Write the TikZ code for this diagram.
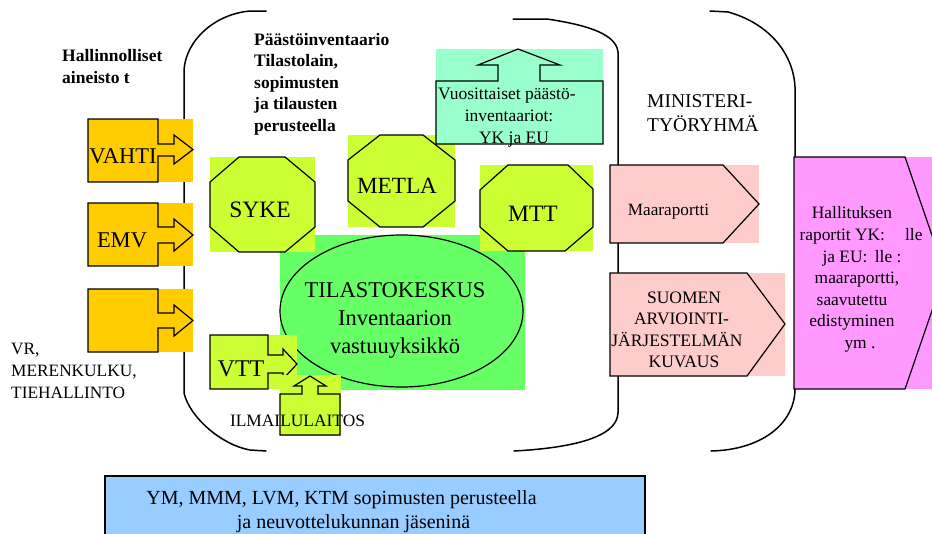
\documentclass[tikz,border=0pt]{standalone}
\usepackage{fontspec}
\setmainfont{Liberation Serif}
\definecolor{orangeF}{HTML}{FFCC00}
\definecolor{limeF}{HTML}{CCFF33}
\definecolor{greenF}{HTML}{66FF66}
\definecolor{tealF}{HTML}{99FFCC}
\definecolor{pinkF}{HTML}{FFCCCC}
\definecolor{magF}{HTML}{FF99FF}
\definecolor{blueF}{HTML}{99CCFF}
\begin{document}
\begin{tikzpicture}[x=1pt,y=-1pt,
  shp/.style={draw=black,line width=1.2pt,line join=miter},
  brk/.style={draw=black,line width=1.5pt,line cap=round,line join=round},
  fs/.style={font=\fontsize{#1}{#1}\selectfont},
  fsb/.style={font=\fontsize{#1}{#1}\selectfont\bfseries},
  tb/.style={inner sep=0pt,anchor=base},
  tw/.style={inner sep=0pt,anchor=base west}]
\useasboundingbox (0,0) rectangle (932,533);
\fill[white] (0,0) rectangle (932,533);

% brackets
\draw[brk] (266,11) -- (250,11) .. controls (215,14) and (186,40) .. (184,70) -- (184,393)
  .. controls (190,418) and (222,445) .. (250,450) -- (266,451);
\draw[brk] (513,19) -- (547,19) .. controls (580,24) and (616,32) .. (618,52) -- (618,413)
  .. controls (617,438) and (570,448) .. (514,451);
\draw[brk] (710,11) -- (728,12) .. controls (765,22) and (793,50) .. (795,87) -- (795,390)
  .. controls (794,425) and (760,450) .. (711,451);

% orange callouts
\fill[orangeF] (88,119) rectangle (193,182);
\draw[shp] (88,119) -- (158,119) -- (158,144) -- (174,144) -- (174,135) -- (193,149.5) -- (174,164) -- (174,156) -- (158,156) -- (158,182) -- (88,182) -- cycle;
\fill[orangeF] (88,203) rectangle (193,266);
\draw[shp] (88,203) -- (158,203) -- (158,227) -- (174,227) -- (174,219) -- (193,235) -- (174,251) -- (174,243) -- (158,243) -- (158,266) -- (88,266) -- cycle;
\fill[orangeF] (88,289) rectangle (193,352);
\draw[shp] (88,289) -- (158,289) -- (158,313) -- (174,313) -- (174,305) -- (193,320.5) -- (174,336) -- (174,328) -- (158,328) -- (158,352) -- (88,352) -- cycle;

% Tilastokeskus
\fill[greenF] (280,235) rectangle (525,390);
\draw[shp] (401.5,311) ellipse [x radius=121.5, y radius=76];

% octagons
\fill[limeF] (210,157) rectangle (315,252);
\draw[shp] (239,157) -- (285,157) -- (315,182) -- (315,227) -- (285,252) -- (239,252) -- (210,227) -- (210,182) -- cycle;
\fill[limeF] (348,135) rectangle (455,227);
\draw[shp] (380,135) -- (423,135) -- (455,160) -- (455,201) -- (423,227) -- (380,227) -- (348,201) -- (348,160) -- cycle;
\fill[limeF] (480,165) rectangle (593,251);
\draw[shp] (508,165) -- (568,165) -- (593,189) -- (593,227) -- (565,251) -- (508,251) -- (480,227) -- (480,190) -- cycle;

% VTT callout
\fill[limeF] (210,335) rectangle (297,389);
\draw[shp] (210,335) -- (268,335) -- (268,355) -- (283,355) -- (283,349) -- (297,364) -- (283,379) -- (283,373) -- (268,373) -- (268,389) -- (210,389) -- cycle;

% Ilmailulaitos callout
\fill[limeF] (280,375) rectangle (341,436);
\draw[shp] (280,394) -- (302,394) -- (302,386) -- (294,386) -- (310,376) -- (326,386) -- (318,386) -- (318,394) -- (340,394) -- (340,435) -- (280,435) -- cycle;

% teal callout
\fill[tealF] (436,49) rectangle (603,144);
\draw[shp] (436,81) -- (498,81) -- (498,65) -- (478,65) -- (518,49) -- (560,65) -- (540,65) -- (540,81) -- (603,81) -- (603,144) -- (436,144) -- cycle;

% pink pentagons
\fill[pinkF] (610,165) rectangle (759,243);
\draw[shp] (610,165) -- (723,165) -- (759,204) -- (723,243) -- (610,243) -- cycle;
\fill[pinkF] (610,273) rectangle (785,376);
\draw[shp] (610,273) -- (747,273) -- (785,324) -- (747,376) -- (610,376) -- cycle;

% magenta chevron
\fill[magF] (794,157) rectangle (940,389);
\draw[shp] (794,157) -- (905,157) -- (945,273) -- (905,389) -- (794,389) -- cycle;

% blue box
\fill[blueF] (105,476) rectangle (645,560);
\draw[shp] (105,476) rectangle (645,560);

% texts
\node[tw,fsb=17.5] (h1) at (62,61) {Hallinnolliset};
\node[tw,fsb=17.5] (h2) at (62,83) {aineisto t};

\node[tw,fsb=17.5] (p1) at (254,45) {Päästöinventaario};
\node[tw,fsb=17.5] (p2) at (254,66.6) {Tilastolain,};
\node[tw,fsb=17.5] (p3) at (254,88.2) {sopimusten};
\node[tw,fsb=17.5] (p4) at (254,109.8) {ja tilausten};
\node[tw,fsb=17.5] (p5) at (254,131.4) {perusteella};

\node[tw,fs=17.3] (v1) at (11,354) {VR,};
\node[tw,fs=17.3] (v2) at (11,376) {MERENKULKU,};
\node[tw,fs=17.3] (v3) at (11,398) {TIEHALLINTO};

\node[tb,fs=22.5] (vahti) at (123,163) {VAHTI};
\node[tb,fs=22.5] (emv) at (122,247) {EMV};

\node[tb,fs=23.5] (syke) at (260,217) {SYKE};
\node[tb,fs=23.2] (metla) at (397,193) {METLA};
\node[tb,fs=23.5] (mtt) at (533,221) {MTT};
\node[tb,fs=24] (vtt) at (241,376) {VTT};

\node[tb,fs=22.5] (k1) at (395,297) {TILASTOKESKUS};
\node[tb,fs=22.5] (k2) at (395,325) {Inventaarion};
\node[tb,fs=22.5] (k3) at (395,353) {vastuuyksikkö};

\node[tb,fs=17.4] (ilm) at (297.5,426) {ILMAILULAITOS};

\node[tw,fs=17.5] (y1) at (438,99) {Vuosittaiset päästö-};
\node[tb,fs=17.5] (y2) at (509,121) {inventaariot:};
\node[tb,fs=17.5] (y3) at (514,143) {YK ja EU};

\node[tw,fs=19.5] (m1) at (647,107) {MINISTERI-};
\node[tw,fs=19.5] (m2) at (647,131) {TYÖRYHMÄ};

\node[tb,fs=17.2] (maa) at (668.5,215) {Maaraportti};

\node[tb,fs=17.5] (s1) at (684,303) {SUOMEN};
\node[tb,fs=17.5] (s2) at (681.5,324.5) {ARVIOINTI-};
\node[tb,fs=17.5] (s3) at (677,346) {JÄRJESTELMÄN};
\node[tb,fs=17.5] (s4) at (684,367) {KUVAUS};

\node[tb,fs=17.4] (g1) at (852,218) {Hallituksen};
\node[tb,fs=17.4] (g2) at (861,240) {raportit YK:\hspace{20pt}lle};
\node[tb,fs=17.4] (g3) at (862,262) {ja EU:\hspace{3pt} lle :};
\node[tb,fs=17.4] (g4) at (857,283.5) {maaraportti,};
\node[tb,fs=17.4] (g5) at (852,305) {saavutettu};
\node[tb,fs=17.4] (g6) at (852,326.5) {edistyminen};
\node[tb,fs=17.4] (g7) at (860,348) {ym .};

\node[tb,fs=20] (b1) at (341.5,504) {YM, MMM, LVM, KTM sopimusten perusteella};
\node[tb,fs=20] (b2) at (353.5,528) {ja neuvottelukunnan jäseninä};
\end{tikzpicture}
\end{document}
